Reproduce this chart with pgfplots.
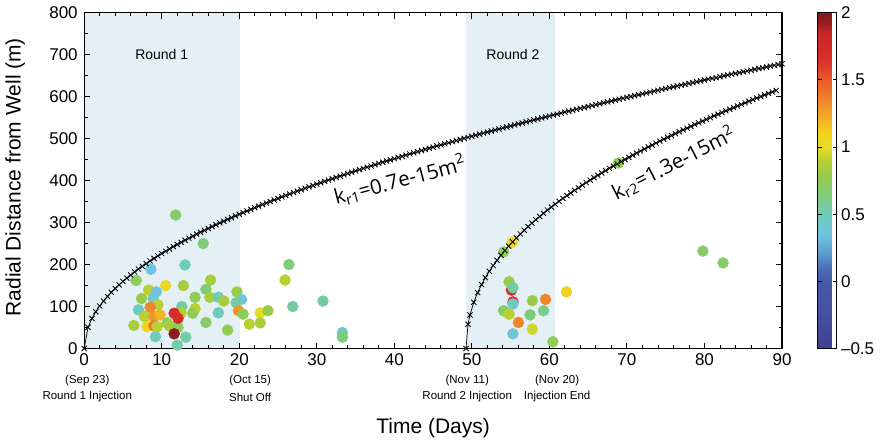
\documentclass[border=0pt]{standalone}
\usepackage{pgfplots}
\pgfplotsset{compat=1.18}
\usepackage{fontspec}
\setmainfont{Liberation Sans}
\newfontfamily\kfont{Open Sans}
\newcommand\tickfont{\fontsize{17}{19}\selectfont}
\newcommand\labfont{\fontsize{21}{24}\selectfont}
\newcommand\datefont{\fontsize{11.5}{13}\selectfont}
\newcommand\roundfont{\fontsize{14}{16}\selectfont}
\definecolor{shadecol}{RGB}{228,240,246}
\begin{document}
\begin{tikzpicture}
\begin{axis}[
  width=697.8pt, height=335.8pt, scale only axis,
  xmin=0, xmax=90, ymin=0, ymax=800,
  xtick={0,10,...,90}, ytick={0,100,...,800},
  minor x tick num=4, minor y tick num=1,
  tick align=inside,
  major tick length=6pt, minor tick length=3.5pt,
  axis line style={line width=1.1pt},
  every tick/.style={black, line width=0.9pt},
  /pgf/number format/assume math mode=true,
  xticklabel style={font=\tickfont, yshift=-2pt},
  yticklabel style={font=\tickfont, xshift=-3pt},
  xlabel={Time (Days)}, ylabel={Radial Distance from Well (m)},
  xlabel style={font=\labfont, at={(axis description cs:0.5,-0.2367)}, anchor=center},
  ylabel style={font=\labfont, at={(axis description cs:-0.099,0.51)}, anchor=center, rotate=0},
  clip=false, axis on top,
  point meta min=-0.5, point meta max=2,
  colormap={cmap}{rgb255(0pt)=(64,64,143); rgb255(25pt)=(70,80,160); rgb255(50pt)=(70,90,168); rgb255(60pt)=(74,111,180); rgb255(70pt)=(92,152,204); rgb255(85pt)=(112,196,222); rgb255(100pt)=(112,204,186); rgb255(115pt)=(127,204,120); rgb255(130pt)=(152,204,72); rgb255(140pt)=(184,208,48); rgb255(150pt)=(230,220,42); rgb255(160pt)=(242,211,30); rgb255(180pt)=(240,149,42); rgb255(200pt)=(234,90,42); rgb255(215pt)=(216,48,44); rgb255(235pt)=(200,38,40); rgb255(243pt)=(150,30,32); rgb255(250pt)=(125,28,30)},
  colorbar,
  colorbar style={
    width=19pt,
    at={(parent axis.north east)}, anchor=north west, xshift=27pt,
    ytick={-0.5,0,0.5,1,1.5,2},
    yticklabels={\textendash0.5,0,0.5,1,1.5,2},
    yticklabel style={font=\tickfont, xshift=1pt},
    major tick length=4pt, tick align=inside,
    ytick pos=both, yticklabel pos=right,
    axis line style={line width=1.1pt},
  },
]
\fill[shadecol] (axis cs:0,0) rectangle (axis cs:20.1,800);
\fill[shadecol] (axis cs:49.3,0) rectangle (axis cs:60.75,800);

\addplot[scatter, only marks, mark=*, mark size=5.5pt, scatter src=explicit,
  scatter/use mapped color={draw=mapped color, fill=mapped color}]
table[meta=c] {
x y c
11.8 318 0.70
15.35 250 0.65
13.0 199 0.50
8.6 189 0.35
6.7 162 0.75
10.5 150 1.05
12.8 150 0.85
16.3 163 0.85
8.3 139 0.90
9.3 135 0.35
15.7 141 0.65
19.7 135 0.80
7.4 119 0.80
14.3 122 0.75
16.2 122 0.85
17.3 122 0.50
18.0 113 0.85
20.3 117 0.35
19.6 109 0.55
8.9 119 0.40
9.5 104 0.90
12.6 100 0.55
14.3 95 0.90
7.0 92 0.50
8.5 98 1.35
7.8 76 0.90
9.0 76 1.30
9.8 80 1.20
12.5 85 0.90
14.0 84 0.75
17.3 85 0.50
19.9 90 1.30
20.5 82 0.75
22.7 85 1.00
23.7 90 0.80
6.4 55 0.85
8.1 52 1.10
9.0 54 1.40
9.4 52 0.90
10.7 61 0.75
11.0 54 0.85
12.1 50 0.75
11.6 84 1.70
12.1 72 1.70
11.6 35 1.95
15.7 62 0.70
18.5 44 0.75
21.3 58 0.90
22.7 61 0.85
9.2 28 0.50
13.1 27 0.55
12.0 8 0.55
26.4 200 0.65
25.9 163 0.90
26.9 100 0.55
30.8 113 0.55
33.3 38 0.45
33.3 27 0.65
55.1 139 1.70
55.3 111 1.65
55.2 253 1.05
54.1 230 0.75
54.8 159 0.80
55.3 145 0.55
55.3 106 0.45
54.1 90 0.70
54.8 82 0.90
57.8 114 0.80
59.5 117 1.35
59.25 90 0.60
57.5 80 0.65
56.0 62 1.35
57.8 46 0.95
55.3 35 0.40
60.45 16 0.75
62.2 135 1.10
68.9 442 0.75
79.8 232 0.70
82.4 204 0.70
};

\addplot[black, line width=0.7pt, mark=x, mark size=3.6pt, mark options={line width=0.85pt}] coordinates {
(0,0) (0.5,50.6) (1,71.5) (1.5,87.6) (2,101.1) (2.5,113.1) (3,123.8) (3.5,133.8) (4,143.0) (4.5,151.7)
(5,159.9) (5.5,167.7) (6,175.1) (6.5,182.3) (7,189.2) (7.5,195.8) (8,202.2) (8.5,208.5) (9,214.5) (9.5,220.4)
(10,226.1) (10.5,231.7) (11,237.1) (11.5,242.5) (12,247.7) (12.5,252.8) (13,257.8) (13.5,262.7) (14,267.5) (14.5,272.3)
(15,276.9) (15.5,281.5) (16,286.0) (16.5,290.4) (17,294.8) (17.5,299.1) (18,303.3) (18.5,307.5) (19,311.7) (19.5,315.7)
(20,319.8) (20.5,323.7) (21,327.7) (21.5,331.5) (22,335.4) (22.5,339.2) (23,342.9) (23.5,346.6) (24,350.3) (24.5,353.9)
(25,357.5) (25.5,361.1) (26,364.6) (26.5,368.1) (27,371.5) (27.5,374.9) (28,378.3) (28.5,381.7) (29,385.0) (29.5,388.3)
(30,391.6) (30.5,394.9) (31,398.1) (31.5,401.3) (32,404.5) (32.5,407.6) (33,410.7) (33.5,413.8) (34,416.9) (34.5,420.0)
(35,423.0) (35.5,426.0) (36,429.0) (36.5,432.0) (37,434.9) (37.5,437.8) (38,440.8) (38.5,443.6) (39,446.5) (39.5,449.4)
(40,452.2) (40.5,455.0) (41,457.8) (41.5,460.6) (42,463.4) (42.5,466.1) (43,468.9) (43.5,471.6) (44,474.3) (44.5,477.0)
(45,479.6) (45.5,482.3) (46,484.9) (46.5,487.6) (47,490.2) (47.5,492.8) (48,495.4) (48.5,497.9) (49,500.5) (49.5,503.0)
(50,505.6) (50.5,508.1) (51,510.6) (51.5,513.1) (52,515.6) (52.5,518.1) (53,520.5) (53.5,523.0) (54,525.4) (54.5,527.8)
(55,530.3) (55.5,532.7) (56,535.1) (56.5,537.4) (57,539.8) (57.5,542.2) (58,544.5) (58.5,546.9) (59,549.2) (59.5,551.5)
(60,553.8) (60.5,556.1) (61,558.4) (61.5,560.7) (62,563.0) (62.5,565.3) (63,567.5) (63.5,569.8) (64,572.0) (64.5,574.2)
(65,576.5) (65.5,578.7) (66,580.9) (66.5,583.1) (67,585.3) (67.5,587.4) (68,589.6) (68.5,591.8) (69,593.9) (69.5,596.1)
(70,598.2) (70.5,600.3) (71,602.5) (71.5,604.6) (72,606.7) (72.5,608.8) (73,610.9) (73.5,613.0) (74,615.1) (74.5,617.1)
(75,619.2) (75.5,621.3) (76,623.3) (76.5,625.4) (77,627.4) (77.5,629.4) (78,631.5) (78.5,633.5) (79,635.5) (79.5,637.5)
(80,639.5) (80.5,641.5) (81,643.5) (81.5,645.5) (82,647.5) (82.5,649.4) (83,651.4) (83.5,653.4) (84,655.3) (84.5,657.3)
(85,659.2) (85.5,661.1) (86,663.1) (86.5,665.0) (87,666.9) (87.5,668.8) (88,670.7) (88.5,672.6) (89,674.5) (89.5,676.4) (90,678.3)
};

\addplot[black, line width=0.7pt, mark=x, mark size=3.6pt, mark options={line width=0.85pt}] coordinates {
(49.25,0) (49.5,57.8) (49.75,79.8) (50.25,110.2) (50.75,133.1) (51.25,152.2) (51.75,168.9) (52.25,183.9) (52.75,197.6) (53.25,210.3)
(53.75,222.1) (54.25,233.3) (54.75,243.9) (55.25,254.0) (55.75,263.6) (56.25,272.9) (56.75,281.8) (57.25,290.4) (57.75,298.7) (58.25,306.8)
(58.75,314.6) (59.25,322.2) (59.75,329.7) (60.25,336.9) (60.75,343.9) (61.25,350.8) (61.75,357.6) (62.25,364.1) (62.75,370.6) (63.25,377.0)
(63.75,383.1) (64.25,389.3) (64.75,395.2) (65.25,401.1) (65.75,407.0) (66.25,412.7) (66.75,418.3) (67.25,423.8) (67.75,429.2) (68.25,434.6)
(68.75,439.9) (69.25,445.1) (69.75,450.3) (70.25,455.3) (70.75,460.4) (71.25,465.3) (71.75,470.2) (72.25,475.0) (72.75,479.9) (73.25,484.6)
(73.75,489.3) (74.25,493.9) (74.75,498.4) (75.25,503.0) (75.75,507.5) (76.25,511.9) (76.75,516.3) (77.25,520.7) (77.75,525.0) (78.25,529.3)
(78.75,533.5) (79.25,537.7) (79.75,541.8) (80.25,545.9) (80.75,550.0) (81.25,554.1) (81.75,558.1) (82.25,562.1) (82.75,566.1) (83.25,570.0)
(83.75,573.9) (84.25,577.7) (84.75,581.5) (85.25,585.3) (85.75,589.1) (86.25,592.9) (86.75,596.6) (87.25,600.3) (87.75,604.0) (88.25,607.6)
(88.75,611.2) (89.25,614.8)
};

\node[font=\roundfont] at (axis cs:10.0,700) {Round 1};
\node[font=\roundfont] at (axis cs:55.3,700) {Round 2};
\node[font=\kfont\fontsize{20.5}{23}\selectfont, rotate=15, inner sep=0pt] at (axis cs:40.7,401) {k\textsubscript{r1}=0.7e-15m\textsuperscript{2}};
\node[font=\kfont\fontsize{20.5}{23}\selectfont, rotate=27, inner sep=0pt] at (axis cs:76,442) {k\textsubscript{r2}=1.3e-15m\textsuperscript{2}};

\node[font=\datefont] at ([yshift=-32.5pt]axis cs:0.4,0) {(Sep 23)};
\node[font=\datefont] at ([yshift=-48.5pt]axis cs:0.4,0) {Round 1 Injection};
\node[font=\datefont] at ([yshift=-32.5pt]axis cs:21.4,0) {(Oct 15)};
\node[font=\datefont] at ([yshift=-48.5pt]axis cs:21.4,0) {Shut Off};
\node[font=\datefont] at ([yshift=-32.5pt]axis cs:49.4,0) {(Nov 11)};
\node[font=\datefont] at ([yshift=-48.5pt]axis cs:49.4,0) {Round 2 Injection};
\node[font=\datefont] at ([yshift=-32.5pt]axis cs:61,0) {(Nov 20)};
\node[font=\datefont] at ([yshift=-48.5pt]axis cs:61,0) {Injection End};
\end{axis}
\pgfresetboundingbox
\path[use as bounding box] (-84.2pt,-95.5pt) rectangle (795.8pt,348.5pt);
\end{tikzpicture}
\end{document}
